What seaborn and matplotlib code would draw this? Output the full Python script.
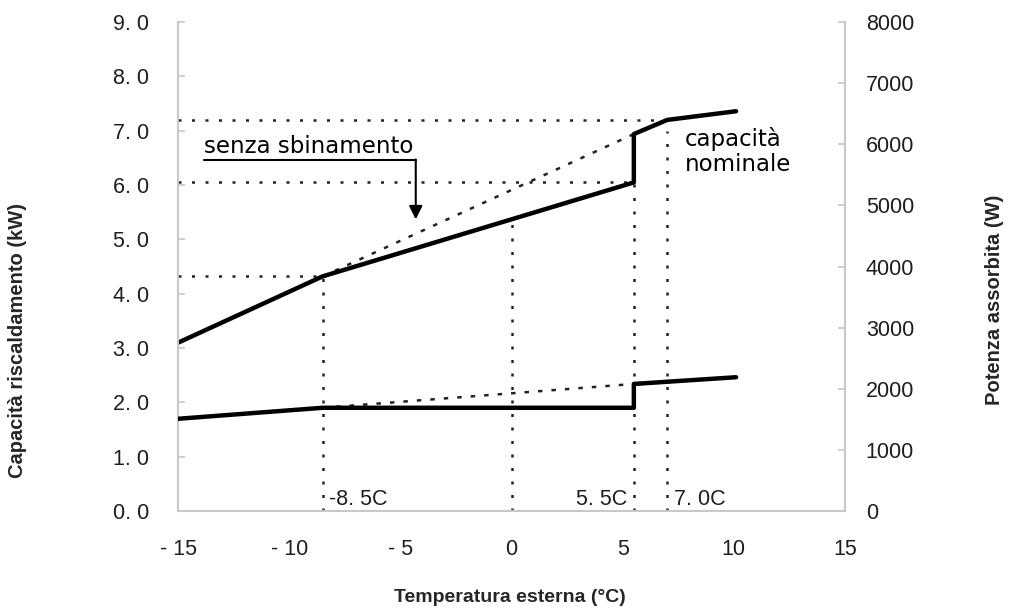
import matplotlib
matplotlib.use('Agg')
import matplotlib.pyplot as plt
import seaborn as sns
from matplotlib import font_manager

# ---------------- data ----------------
cap_x = [-15.0, -8.5, 5.5, 5.5, 7.0, 10.1]
cap_y = [3.10, 4.32, 6.05, 6.94, 7.20, 7.36]          # kW
pow_x = [-15.0, -8.5, 5.5, 5.5, 10.1]
pow_y = [1510, 1690, 1690, 2080, 2190]                # W
nodef_cap_x = [-8.5, 5.5]
nodef_cap_y = [4.32, 6.94]
nodef_pow_x = [-8.5, 5.5]
nodef_pow_y = [1690, 2080]
ref_temps = [-8.5, 0.0, 5.5, 7.0]
ref_temp_tops = [4.32, 5.41, 6.06, 7.0]
ref_caps = [4.32, 6.06, 7.20]
ref_cap_ends = [-8.5, 5.5, 7.0]
ref_label_x = [-8.5, 5.5, 7.0]
ref_labels = ['-8. 5C', '5. 5C', '7. 0C']
x_ticks = [-15, -10, -5, 0, 5, 10, 15]
x_ticklabels = ['- 15', '- 10', '- 5', '0', '5', '10', '15']
yl_ticks = [0, 1, 2, 3, 4, 5, 6, 7, 8, 9]
yl_ticklabels = ['0. 0', '1. 0', '2. 0', '3. 0', '4. 0', '5. 0', '6. 0', '7. 0', '8. 0', '9. 0']
yr_ticks = [0, 1000, 2000, 3000, 4000, 5000, 6000, 7000, 8000]
yr_ticklabels = ['0', '1000', '2000', '3000', '4000', '5000', '6000', '7000', '8000']

sns.set_style('white')
names = {f.name for f in font_manager.fontManager.ttflist}
narrow = 'Liberation Sans Narrow' if 'Liberation Sans Narrow' in names else 'Liberation Sans'
plt.rcParams['font.family'] = ['DejaVu Sans']

fig = plt.figure(figsize=(10.12, 6.15), dpi=100)
ax = fig.add_axes([0.176, 0.169, 0.659, 0.795])
ax2 = ax.twinx()

spine_col = '#c8c8c8'
txt_col = '#1e1e1e'
dot = (0, (1.2, 4.2))
dash = (0, (1.8, 3.6))
tick_fs = 15.5

# reference dotted lines
for xv, top in zip(ref_temps, ref_temp_tops):
    ax.plot([xv, xv], [0, top], color='#222222', lw=1.8, linestyle=dot)
for yv, xe in zip(ref_caps, ref_cap_ends):
    ax.plot([-15, xe], [yv, yv], color='#222222', lw=1.8, linestyle=dot)

# no-defrost (dashed) lines
sns.lineplot(x=nodef_cap_x, y=nodef_cap_y, ax=ax, color='#222222', lw=1.8,
             linestyle=dash, sort=False, estimator=None)
sns.lineplot(x=nodef_pow_x, y=nodef_pow_y, ax=ax2, color='#222222', lw=1.8,
             linestyle=dash, sort=False, estimator=None)

# main curves
sns.lineplot(x=cap_x, y=cap_y, ax=ax, color='black', lw=3.2, sort=False, estimator=None)
sns.lineplot(x=pow_x, y=pow_y, ax=ax2, color='black', lw=3.2, sort=False, estimator=None)

ax.set_xlim(-15, 15)
ax.set_ylim(0, 9)
ax2.set_ylim(0, 8000)
ax.set_xlabel('')
ax.set_ylabel('')
ax2.set_ylabel('')

ax.set_xticks(x_ticks)
ax.set_xticklabels(x_ticklabels, fontfamily=narrow, fontsize=tick_fs, color=txt_col)
ax.set_yticks(yl_ticks)
ax.set_yticklabels(yl_ticklabels, fontfamily=narrow, fontsize=tick_fs, color=txt_col)
ax2.set_yticks(yr_ticks)
ax2.set_yticklabels(yr_ticklabels, fontfamily=narrow, fontsize=tick_fs, color=txt_col)

ax.tick_params(axis='x', direction='in', length=4, width=1.2, color=spine_col, pad=20)
ax.tick_params(axis='y', direction='in', length=5, width=1.2, color=spine_col, pad=21)
ax2.tick_params(axis='y', direction='in', length=5, width=1.2, color=spine_col, pad=15)

for a in (ax, ax2):
    a.spines['top'].set_visible(False)
    for s in ('left', 'right', 'bottom'):
        a.spines[s].set_color(spine_col)
        a.spines[s].set_linewidth(1.5)
ax.spines['right'].set_visible(False)
ax2.spines['left'].set_visible(False)
ax2.spines['bottom'].set_visible(False)

# temperature labels
ax.text(ref_label_x[0] + 0.3, 0.02, ref_labels[0], ha='left', va='bottom',
        fontfamily=narrow, fontsize=tick_fs, color=txt_col)
ax.text(ref_label_x[1] - 0.3, 0.02, ref_labels[1], ha='right', va='bottom',
        fontfamily=narrow, fontsize=tick_fs, color=txt_col)
ax.text(ref_label_x[2] + 0.3, 0.02, ref_labels[2], ha='left', va='bottom',
        fontfamily=narrow, fontsize=tick_fs, color=txt_col)

# annotations
ax.text(-13.83, 6.50, 'senza sbinamento', ha='left', va='bottom', fontsize=16.5, color='black')
ax.plot([-13.83, -4.31], [6.46, 6.46], color='black', lw=1.5)
ax.annotate('', xy=(-4.31, 5.37), xytext=(-4.31, 6.47),
            arrowprops=dict(arrowstyle='-|>', color='black', lw=1.5,
                            mutation_scale=20, shrinkA=0, shrinkB=0))
ax.text(7.8, 6.62, 'capacità\nnominale', ha='left', va='center', fontsize=16.5,
        linespacing=1.12, color='black')

# axis titles
fig.text(18 / 1012, 1 - 340 / 615, 'Capacità riscaldamento (kW)', rotation=90,
         ha='center', va='center', fontsize=14.5, fontweight='bold', fontfamily='Liberation Sans')
fig.text(995 / 1012, 1 - 300 / 615, 'Potenza assorbita (W)', rotation=90,
         ha='center', va='center', fontsize=14.5, fontweight='bold', fontfamily='Liberation Sans')
fig.text(510 / 1012, 1 - 598 / 615, 'Temperatura esterna (°C)', ha='center', va='center',
         fontsize=14, fontweight='bold', fontfamily='Liberation Sans')

fig.savefig('out.png', dpi=100)
